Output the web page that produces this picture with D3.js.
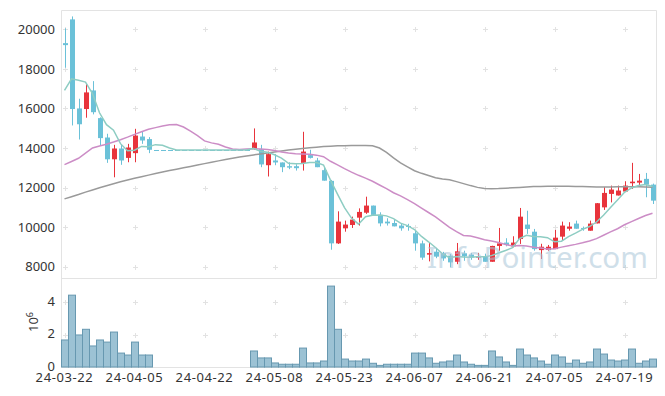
<!DOCTYPE html>
<meta charset="utf-8">
<style>
  body { margin: 0; background: #fff; }
  text { font-family: "Noto Sans", sans-serif; fill: #333; }
</style>
<body>
<div class="chart"></div>
<script src="https://cdnjs.cloudflare.com/ajax/libs/d3/7.8.5/d3.min.js"></script>
<script>

  // trading days shown on the chart
  const dates = [
    "24-03-22","24-03-25","24-03-26","24-03-27","24-03-28","24-03-29",
    "24-04-01","24-04-02","24-04-03","24-04-04","24-04-05",
    "24-04-08","24-04-09","24-04-11","24-04-12","24-04-15","24-04-16","24-04-17","24-04-18","24-04-19","24-04-22",
    "24-04-23","24-04-24","24-04-25","24-04-26","24-04-29","24-04-30","24-05-02","24-05-03","24-05-07","24-05-08",
    "24-05-09","24-05-10","24-05-13","24-05-14","24-05-16","24-05-17","24-05-20","24-05-21","24-05-22","24-05-23",
    "24-05-24","24-05-27","24-05-28","24-05-29","24-05-30","24-05-31","24-06-03","24-06-04","24-06-05","24-06-07",
    "24-06-10","24-06-11","24-06-12","24-06-13","24-06-14","24-06-17","24-06-18","24-06-19","24-06-20","24-06-21",
    "24-06-24","24-06-25","24-06-26","24-06-27","24-06-28","24-07-01","24-07-02","24-07-03","24-07-04","24-07-05",
    "24-07-08","24-07-09","24-07-10","24-07-11","24-07-12","24-07-15","24-07-16","24-07-17","24-07-18","24-07-19",
    "24-07-22","24-07-23","24-07-24","24-07-25"
  ];
  const tickDates = ["24-03-22","24-04-05","24-04-22","24-05-08","24-05-23","24-06-07","24-06-21","24-07-05","24-07-19"];
  const priceTicks = [8000, 10000, 12000, 14000, 16000, 18000, 20000];
  const volumeTicks = [0, 2e6, 4e6];

  const open = [19300,20500,16000,15970,16910,15510,14530,13430,13975,13500,13740,14580,14450,
    13900,13900,13900,13900,13900,13900,13900,13900,13900,13900,13900,13900,13900,13900,
    13940,13940,13130,13370,13270,13080,13080,13250,13640,13370,12880,12340,9180,9940,
    10110,10480,10730,11090,10620,10280,10210,10080,10060,9690,9180,8610,8760,8680,
    8560,8250,8680,8610,8460,8530,8250,9050,9220,9030,9400,10130,9770,8840,8850,8890,
    9520,9920,10180,9960,9820,10190,11000,11680,11600,11800,12220,12250,12440,12150];
  const high = [20050,20650,16490,17280,17380,15550,14720,14160,14160,14210,14970,14850,14550,
    13900,13900,13900,13900,13900,13900,13900,13900,13900,13900,13900,13900,13900,13900,
    14990,14160,13820,13700,13270,13280,13180,14820,13910,13500,13030,12390,10800,10330,
    10530,10950,11540,11090,10750,10450,10400,10180,10170,9860,9320,9220,8950,8750,
    8640,9200,8810,8700,8700,8660,9060,9960,9440,9540,10970,10830,9910,9160,9100,9860,
    10280,10250,10330,10030,10330,11220,12020,12100,12100,12320,13250,12690,12740,12200];
  const low = [18060,15140,14430,15530,15700,14130,13250,12520,13150,13280,13280,14210,13740,
    13900,13900,13900,13900,13900,13900,13900,13900,13900,13900,13900,13900,13900,13900,
    13910,13030,12560,13130,12780,12930,12860,12860,13470,13030,12350,8860,9150,9770,
    9960,10080,10670,10570,10040,10080,10040,9820,9820,8810,8350,8270,8430,8300,
    7970,8130,8300,8350,8350,8250,8250,8810,9030,8980,9150,9660,8810,8390,8800,8890,
    9320,9820,9920,9820,9820,10190,10870,11250,11600,11800,11930,12100,11510,11170];
  const close = [19200,15970,15200,16810,15810,14500,13430,13975,13370,14025,14630,14380,13910,
    13900,13900,13900,13900,13900,13900,13900,13900,13900,13900,13900,13900,13900,13900,
    14280,13170,13690,13270,13030,13010,12980,13820,13500,13030,12350,9180,10280,10130,
    10380,10770,11090,10620,10190,10190,10040,9940,10030,9180,8460,8690,8510,8420,
    8220,8780,8520,8470,8510,8250,9050,9180,9100,9220,10530,9910,8890,9010,9010,9470,
    10080,10030,9920,9940,10180,11210,11730,11900,11850,12100,12300,12350,12150,11340];
  const volume = [1670000,4440000,1980000,2330000,1300000,1670000,1540000,2160000,860000,740000,1540000,740000,740000,
    0,0,0,0,0,0,0,0,0,0,0,0,0,0,
    990000,560000,560000,250000,170000,170000,170000,1170000,250000,250000,370000,5000000,2330000,490000,
    370000,370000,490000,230000,100000,170000,170000,170000,170000,860000,860000,560000,230000,310000,
    370000,740000,310000,170000,100000,100000,990000,620000,310000,100000,1110000,740000,560000,370000,170000,740000,
    620000,230000,430000,230000,310000,1110000,800000,430000,370000,430000,1110000,230000,370000,490000];

  const ma5 = [16910,17500,17420,17330,16750,15780,15180,14900,14220,13860,13890,14080,14060,14170,14140,14000,13900,
    13900,13900,13900,13900,13900,13900,13900,13900,13900,13900,
    13980,13830,13790,13660,13490,13230,13200,13220,13270,13270,13140,12380,11670,10990,
    10460,10150,10530,10600,10610,10570,10430,10200,10080,9880,9530,9260,8970,8650,
    8460,8520,8490,8480,8500,8510,8560,8690,8820,8960,9420,9590,9530,9510,9470,9260,
    9290,9520,9700,9890,10030,10260,10600,10990,11370,11760,11980,12100,12150,12050];
  const ma20 = [13160,13320,13480,13740,14000,14100,14190,14300,14420,14550,14690,14820,14950,15030,15110,15170,15190,15060,14850,
    14630,14360,14260,14190,14050,13950,13920,13950,13960,13950,13930,13870,13800,13750,13710,13700,13680,13640,13560,13330,13150,12960,
    12780,12620,12480,12320,12130,11950,11740,11580,11390,11190,10960,10740,10520,10250,
    9990,9770,9580,9550,9460,9360,9300,9220,9120,9050,9070,9050,8990,8950,8900,8910,
    8990,9060,9130,9210,9300,9420,9590,9760,9920,10120,10280,10440,10590,10700];
  const ma60 = [11430,11540,11650,11770,11880,11990,12090,12190,12290,12380,12470,12550,12630,12710,12790,12860,12930,13000,13070,13140,13210,
    13280,13350,13420,13480,13540,13600,13650,13700,13750,13800,13850,13900,13940,13980,14010,14040,14070,14090,14110,14120,
    14130,14130,14130,14110,14000,13780,13500,13250,13050,12850,12720,12610,12500,12430,
    12390,12300,12200,12100,12010,11950,11940,11950,11970,11990,12010,12030,12050,12060,12070,12070,
    12070,12070,12060,12050,12040,12030,12030,12030,12040,12040,12040,12040,12030,12020];

  const width = 665, height = 396;
  const plotLeft = 61, plotRight = 656, plotTop = 10, plotSplit = 278, plotBottom = 367;

  const svg = d3.select(".chart").append("svg")
    .attr("width", width)
    .attr("height", height);

  const x = d3.scaleBand().domain(dates).range([plotLeft, plotRight]).padding(0);
  const cx = (d) => x(d) + x.bandwidth() / 2;
  const y = d3.scaleLinear().domain([7430, 20975]).range([plotSplit, plotTop]);
  const yv = d3.scaleLinear().domain([0, 5.5e6]).range([plotBottom, plotSplit]);

  svg.append("defs").append("clipPath").attr("id", "clip")
    .append("rect").attr("x", plotLeft).attr("y", plotTop)
    .attr("width", plotRight - plotLeft).attr("height", plotSplit - plotTop);

  // grid crosses
  const grid = svg.append("g").attr("stroke", "#e2e2e2").attr("stroke-width", 1);
  const crossAt = (gx, gy) => {
    grid.append("line").attr("x1", gx - 2.5).attr("x2", gx + 2.5).attr("y1", gy).attr("y2", gy);
    grid.append("line").attr("x1", gx).attr("x2", gx).attr("y1", gy - 2.5).attr("y2", gy + 2.5);
  };
  tickDates.forEach((d) => {
    priceTicks.forEach((v) => crossAt(Math.round(cx(d)) + 0.5, Math.round(y(v)) + 0.5));
    volumeTicks.slice(1).forEach((v) => crossAt(Math.round(cx(d)) + 0.5, Math.round(yv(v)) + 0.5));
  });

  // frame
  const frame = svg.append("g").attr("stroke", "#e3e3e3").attr("fill", "none");
  frame.append("path").attr("d", `M${plotLeft + 0.5},${plotBottom + 0.5}V${plotTop + 0.5}H${plotRight + 0.5}V${plotSplit + 0.5}`);
  frame.append("path").attr("d", `M${plotLeft + 0.5},${plotSplit + 0.5}H${plotRight + 0.5}`);
  frame.append("path").attr("d", `M${plotLeft + 0.5},${plotBottom + 0.5}H${plotRight + 0.5}`);

  // volume bars
  svg.append("g").selectAll("rect")
    .data(dates.map((d, i) => ({d, v: volume[i]})).filter((e) => e.v > 0))
    .enter().append("rect")
    .attr("x", (e) => x(e.d) + 0.5)
    .attr("y", (e) => yv(e.v))
    .attr("width", x.bandwidth())
    .attr("height", (e) => plotBottom - yv(e.v))
    .attr("fill", "#9cc2d4")
    .attr("stroke", "#6798b0")
    .attr("stroke-width", 1);

  // candles
  const up = "#e8343c", down = "#6bc1d8";
  const candles = svg.append("g").attr("clip-path", "url(#clip)")
    .selectAll("g")
    .data(dates.map((d, i) => ({d, o: open[i], h: high[i], l: low[i], c: close[i]})))
    .enter().append("g");

  candles.append("line")
    .attr("x1", (e) => Math.round(cx(e.d)) + 0.5)
    .attr("x2", (e) => Math.round(cx(e.d)) + 0.5)
    .attr("y1", (e) => y(e.h))
    .attr("y2", (e) => y(e.l))
    .attr("stroke", (e) => e.c > e.o ? up : down);

  candles.append("rect")
    .attr("x", (e) => Math.round(cx(e.d)) - 2)
    .attr("width", 5)
    .attr("y", (e) => y(Math.max(e.o, e.c)))
    .attr("height", (e) => Math.max(1, y(Math.min(e.o, e.c)) - y(Math.max(e.o, e.c))))
    .attr("fill", (e) => e.c > e.o ? up : down);

  // moving averages
  const lines = svg.append("g").attr("clip-path", "url(#clip)").attr("fill", "none").attr("stroke-width", 1.5);
  [[ma60, "#9a9a9a"], [ma20, "#cc8dc6"], [ma5, "#8ecdc3"]].forEach(([vals, col]) => {
    lines.append("path")
      .datum(vals)
      .attr("stroke", col)
      .attr("d", d3.line().x((v, i) => cx(dates[i])).y((v) => y(v)));
  });

  // watermark
  svg.append("text")
    .attr("x", 427)
    .attr("y", 268)
    .attr("textLength", 221)
    .attr("lengthAdjust", "spacingAndGlyphs")
    .style("font-size", "29px")
    .style("fill", "#a9c6d8")
    .style("opacity", 0.55)
    .text("InfoPointer.com");

  // axes
  const yAxis = svg.append("g")
    .attr("transform", `translate(${plotLeft},0)`)
    .call(d3.axisLeft(y).tickValues(priceTicks).tickSize(0).tickPadding(6).tickFormat(d3.format("d")));
  const vAxis = svg.append("g")
    .attr("transform", `translate(${plotLeft},0)`)
    .call(d3.axisLeft(yv).tickValues(volumeTicks).tickSize(0).tickPadding(6).tickFormat((v) => v / 1e6));
  const xAxis = svg.append("g")
    .attr("transform", `translate(0,${plotBottom})`)
    .call(d3.axisBottom(x).tickValues(tickDates).tickSize(0).tickPadding(6));

  [yAxis, vAxis, xAxis].forEach((g) => {
    g.select(".domain").remove();
    g.selectAll("text").style("font-size", "13px").style("fill", "#333").attr("font-family", null);
  });
  xAxis.selectAll("text").style("letter-spacing", "0.6px");
  vAxis.selectAll("text").attr("dy", "0.25em");

  // 10^6 unit label
  const unit = svg.append("text")
    .attr("transform", "translate(38,322) rotate(-90)")
    .attr("text-anchor", "middle")
    .style("font-size", "13px");
  unit.append("tspan").text("10");
  unit.append("tspan").attr("dy", -5).style("font-size", "9px").text("6");

</script>
